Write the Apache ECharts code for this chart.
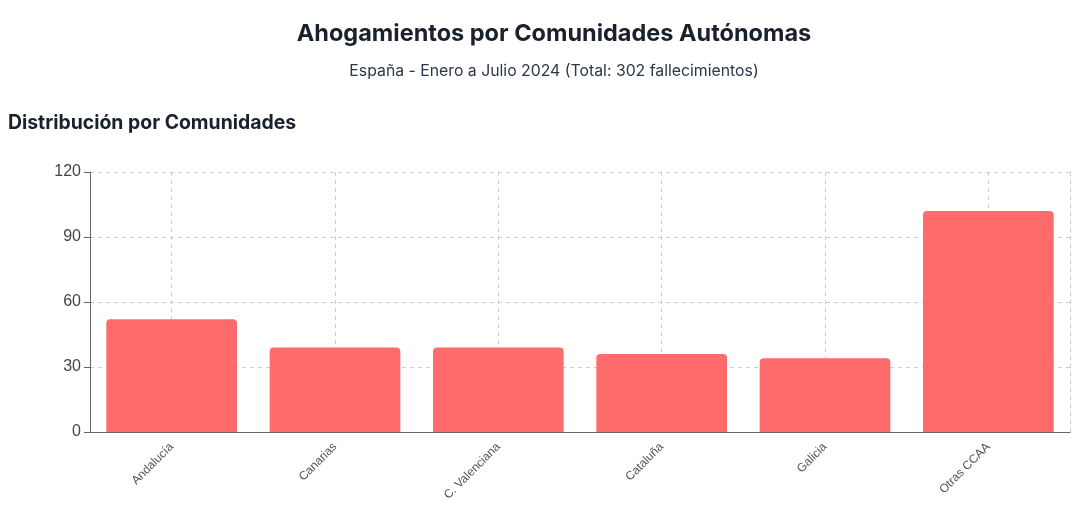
<!DOCTYPE html>
<html>
<head>
<meta charset="utf-8">
<script src="https://cdn.jsdelivr.net/npm/echarts@6/dist/echarts.min.js"></script>
<style>
html,body{margin:0;padding:0;background:#fff;}
#c{width:1080px;height:507px;}
</style>
</head>
<body>
<div id="c"></div>
<script>
const categories = ['Andalucía', 'Canarias', 'C. Valenciana', 'Cataluña', 'Galicia', 'Otras CCAA'];
const deaths = [52, 39, 39, 36, 34, 102];
const yTicks = { min: 0, max: 120, interval: 30 };

const chart = echarts.init(document.getElementById('c'));
chart.setOption({
  animation: false,
  backgroundColor: '#fff',
  title: [
    { text: 'Ahogamientos por Comunidades Autónomas', left: 554, top: 22, textAlign: 'center', padding: 0,
      textStyle: { fontFamily: 'Inter', fontSize: 23.5, fontWeight: 'bold', color: '#1a202c' } },
    { text: 'España - Enero a Julio 2024 (Total: 302 fallecimientos)', left: 554, top: 63, textAlign: 'center', padding: 0,
      textStyle: { fontFamily: 'Inter', fontSize: 15.8, fontWeight: 'normal', color: '#2d3748' } },
    { text: 'Distribución por Comunidades', left: 8, top: 114, padding: 0,
      textStyle: { fontFamily: 'Inter', fontSize: 19.4, fontWeight: 'bold', color: '#1a202c' } }
  ],
  grid: { left: 90, right: 10, top: 172, bottom: 75 },
  xAxis: {
    type: 'category',
    data: categories,
    axisLine: { lineStyle: { color: '#666', width: 1 } },
    axisTick: { alignWithLabel: true, length: 6, lineStyle: { color: '#666' } },
    axisLabel: { rotate: 45, fontSize: 12, color: '#555', fontFamily: 'Liberation Sans', margin: 13 },
    splitLine: { show: false }
  },
  yAxis: [
    {
      type: 'value', min: yTicks.min, max: yTicks.max, interval: yTicks.interval,
      axisLine: { show: true, lineStyle: { color: '#666' } },
      axisTick: { show: true, length: 6, lineStyle: { color: '#666' } },
      axisLabel: { fontSize: 16, color: '#444', fontFamily: 'Liberation Sans', margin: 9 },
      splitLine: { lineStyle: { type: [4, 4], color: '#ccc' } }
    },
    {
      type: 'value', position: 'right', min: yTicks.min, max: yTicks.max, interval: yTicks.interval,
      axisLine: { show: true, lineStyle: { color: '#ccc', type: [4, 4] } },
      axisTick: { show: false }, axisLabel: { show: false }, splitLine: { show: false }
    }
  ],
  series: [{
    type: 'bar',
    data: deaths,
    barCategoryGap: '20%',
    itemStyle: { color: '#ff6b6b', borderRadius: [4, 4, 0, 0] },
    z: 3,
    markLine: {
      silent: true,
      symbol: 'none',
      label: { show: false },
      lineStyle: { type: [4, 4], color: '#ccc', width: 1 },
      z: 1,
      data: categories.map(c => ({ xAxis: c }))
    }
  }]
});
</script>
</body>
</html>
